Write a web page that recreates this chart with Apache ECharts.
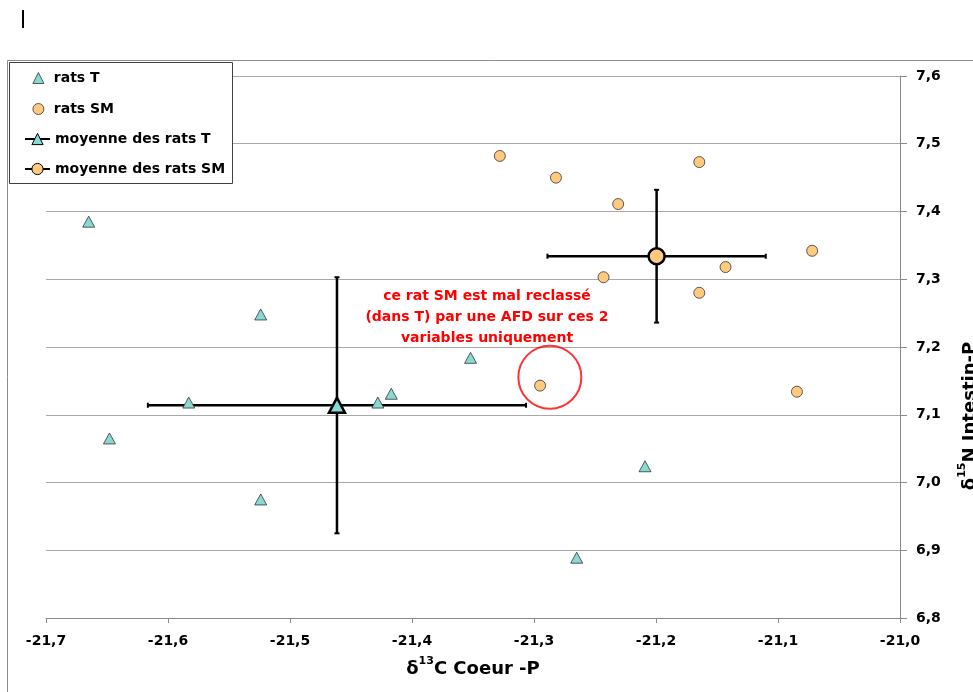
<!DOCTYPE html>
<html>
<head>
    <title></title>
    <meta charset="UTF-8">
    <script type="text/javascript" src="https://cdn.jsdelivr.net/npm/echarts@6.0.0/dist/echarts.min.js"></script>
    <style type="text/css">
        html, body { margin: 0; padding: 0; background: #fff; }
        #scatter_chart { width: 973px; height: 692px; }
    </style>
</head>
<body>
<div id="scatter_chart"></div>

<script type="text/javascript">
    // rats T (triangles)
    var tX = [-21.665, -21.648, -21.583, -21.524, -21.524, -21.428, -21.417, -21.352, -21.209, -21.265];
    var tY = [7.385, 7.065, 7.118, 6.975, 7.248, 7.118, 7.131, 7.184, 7.024, 6.889];
    // rats SM (circles)
    var smX = [-21.328, -21.282, -21.231, -21.1645, -21.243, -21.143, -21.1645, -21.072, -21.0845, -21.295];
    var smY = [7.482, 7.450, 7.411, 7.473, 7.303, 7.318, 7.280, 7.342, 7.134, 7.143];
    // moyennes + ecarts (x, y)
    var meanT = [-21.4615, 7.114];
    var errT = [0.155, 0.189];
    var meanSM = [-21.1995, 7.334];
    var errSM = [0.0895, 0.098];
    // rat SM mal reclassé (entouré)
    var circled = [-21.287, 7.1555];

    var xTicks = [-21.7, -21.6, -21.5, -21.4, -21.3, -21.2, -21.1, -21.0];
    var yTicks = [6.8, 6.9, 7.0, 7.1, 7.2, 7.3, 7.4, 7.5, 7.6];
    var pointNames = ['rats T', 'rats SM'];
    var meanNames = ['moyenne des rats T', 'moyenne des rats SM'];
    var noteLines = ['ce rat SM est mal reclassé', '(dans T) par une AFD sur ces 2', 'variables uniquement'];

    var FONT = 'DejaVu Sans';
    var colT = '#88d9d3';
    var colSM = '#ffca80';

    function pairs(xs, ys) {
        var out = [];
        for (var i = 0; i < xs.length; i++) {
            out.push([xs[i], ys[i]]);
        }
        return out;
    }
    function fmt(v) {
        return v.toFixed(1).replace('.', ',');
    }

    function renderErr(params, api) {
        var x = api.value(0), y = api.value(1), ex = api.value(2), ey = api.value(3);
        var l = api.coord([x - ex, y]), r = api.coord([x + ex, y]);
        var t = api.coord([x, y + ey]), b = api.coord([x, y - ey]);
        var c = 2.5;
        var st = {stroke: '#000', lineWidth: 2.5};
        var cs = {stroke: '#000', lineWidth: 2};
        return {
            type: 'group',
            children: [
                {type: 'line', shape: {x1: l[0], y1: l[1], x2: r[0], y2: r[1]}, style: st},
                {type: 'line', shape: {x1: t[0], y1: t[1], x2: b[0], y2: b[1]}, style: st},
                {type: 'line', shape: {x1: l[0], y1: l[1] - c, x2: l[0], y2: l[1] + c}, style: cs},
                {type: 'line', shape: {x1: r[0], y1: r[1] - c, x2: r[0], y2: r[1] + c}, style: cs},
                {type: 'line', shape: {x1: t[0] - c, y1: t[1], x2: t[0] + c, y2: t[1]}, style: cs},
                {type: 'line', shape: {x1: b[0] - c, y1: b[1], x2: b[0] + c, y2: b[1]}, style: cs}
            ]
        };
    }

    var legendText = {fontFamily: FONT, fontWeight: 'bold', fontSize: 14, color: '#000', lineHeight: 16};

    var chart = echarts.init(document.getElementById('scatter_chart'));

    chart.setOption({
        animation: false,
        backgroundColor: '#fff',
        grid: {left: 46, right: 73, top: 76, bottom: 74},
        legend: [
            {
                orient: 'vertical',
                left: 32.5,
                top: 70,
                padding: 0,
                itemWidth: 11,
                itemHeight: 11,
                itemGap: 15,
                data: pointNames,
                formatter: function (name) { return ' ' + name; },
                itemStyle: {borderWidth: 0.8, borderColor: '#333'},
                textStyle: legendText,
                z: 6
            },
            {
                orient: 'vertical',
                left: 24,
                top: 131,
                padding: 0,
                itemWidth: 25,
                itemHeight: 14,
                itemGap: 14,
                data: meanNames,
                itemStyle: {borderWidth: 1, borderColor: '#000'},
                textStyle: legendText,
                z: 6
            }
        ],
        xAxis: {
            type: 'value',
            min: xTicks[0],
            max: xTicks[xTicks.length - 1],
            interval: 0.1,
            axisLine: {show: true, onZero: false, lineStyle: {color: '#8a8a8a', width: 1}},
            axisTick: {show: true, length: 5, lineStyle: {color: '#8a8a8a'}},
            splitLine: {show: false},
            axisLabel: {
                margin: 16, color: '#000', fontFamily: FONT, fontWeight: 'bold', fontSize: 14,
                formatter: fmt
            },
            name: '{a|δ}{s|13}{a|C Coeur -P}',
            nameLocation: 'middle',
            nameGap: 38,
            nameTextStyle: {
                rich: {
                    a: {fontFamily: FONT, fontWeight: 'bold', fontSize: 18, color: '#000', lineHeight: 22, verticalAlign: 'bottom'},
                    s: {fontFamily: FONT, fontWeight: 'bold', fontSize: 11, color: '#000', lineHeight: 22, verticalAlign: 'top'}
                }
            }
        },
        yAxis: {
            type: 'value',
            position: 'right',
            min: yTicks[0],
            max: yTicks[yTicks.length - 1],
            interval: 0.1,
            axisLine: {show: true, onZero: false, lineStyle: {color: '#8a8a8a', width: 1}},
            axisTick: {show: true, length: 7, lineStyle: {color: '#8a8a8a'}},
            splitLine: {show: true, lineStyle: {color: '#a8a8a8', width: 1}},
            axisLabel: {
                margin: 16, color: '#000', fontFamily: FONT, fontWeight: 'bold', fontSize: 14,
                formatter: fmt
            }
        },
        graphic: [
            {
                type: 'rect', z: 0,
                shape: {x: 7.5, y: 60.5, width: 1000, height: 700},
                style: {fill: 'none', stroke: '#8c8c8c', lineWidth: 1}
            },
            {
                type: 'rect', z: 5,
                shape: {x: 9.5, y: 62.5, width: 223, height: 121},
                style: {fill: '#fff', stroke: '#404040', lineWidth: 1}
            },
            {
                type: 'rect', z: 5,
                shape: {x: 22, y: 10, width: 2, height: 18},
                style: {fill: '#000'}
            },
            {
                type: 'text', z: 5,
                style: {
                    text: noteLines.join('\n'),
                    x: 487, y: 286,
                    textAlign: 'center', textVerticalAlign: 'top',
                    font: 'bold 14px ' + FONT,
                    lineHeight: 21,
                    fill: '#ff0000'
                }
            },
            {
                type: 'text', z: 5,
                x: 968, y: 416, rotation: Math.PI / 2,
                style: {
                    text: '{a|δ}{s|15}{a|N Intestin-P}',
                    align: 'center', verticalAlign: 'middle',
                    rich: {
                        a: {fontFamily: FONT, fontWeight: 'bold', fontSize: 18, fill: '#000', lineHeight: 22, verticalAlign: 'bottom'},
                        s: {fontFamily: FONT, fontWeight: 'bold', fontSize: 11, fill: '#000', lineHeight: 22, verticalAlign: 'top'}
                    }
                }
            }
        ],
        series: [
            {
                name: 'rats T',
                type: 'scatter',
                symbol: 'triangle',
                symbolSize: [12, 11],
                data: pairs(tX, tY),
                itemStyle: {color: colT, borderColor: '#333', borderWidth: 0.8, opacity: 1},
                z: 3
            },
            {
                name: 'rats SM',
                type: 'scatter',
                symbol: 'circle',
                symbolSize: 11,
                data: pairs(smX, smY),
                itemStyle: {color: colSM, borderColor: '#333', borderWidth: 0.8, opacity: 1},
                z: 3
            },
            {
                name: 'erreurs',
                type: 'custom',
                renderItem: renderErr,
                data: [meanT.concat(errT), meanSM.concat(errSM)],
                z: 2
            },
            {
                name: 'moyenne des rats T',
                type: 'line',
                symbol: 'triangle',
                symbolSize: [16, 15],
                showSymbol: true,
                data: [meanT],
                lineStyle: {color: '#000', width: 1.5},
                itemStyle: {color: colT, borderColor: '#000', borderWidth: 2.5},
                z: 4
            },
            {
                name: 'moyenne des rats SM',
                type: 'line',
                symbol: 'circle',
                symbolSize: 16,
                showSymbol: true,
                data: [meanSM],
                lineStyle: {color: '#000', width: 1.5},
                itemStyle: {color: colSM, borderColor: '#000', borderWidth: 2.5},
                z: 4
            },
            {
                name: 'cercle',
                type: 'scatter',
                symbol: 'circle',
                symbolSize: 63,
                data: [circled],
                itemStyle: {color: 'rgba(0,0,0,0)', borderColor: '#ff0000', borderWidth: 2},
                silent: true,
                z: 2
            }
        ]
    });
</script>

</body>
</html>
